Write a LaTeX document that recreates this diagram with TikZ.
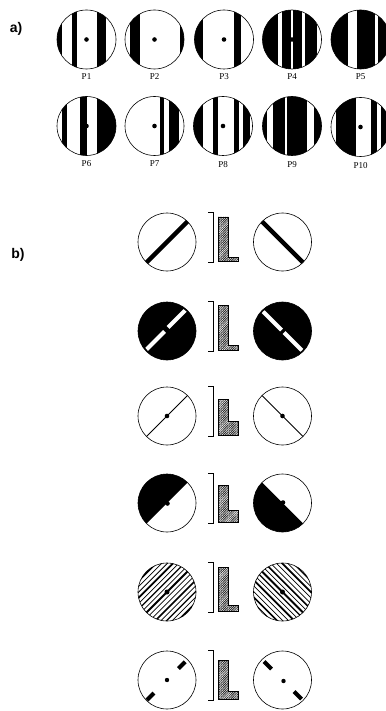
\documentclass[tikz,border=0pt]{standalone}
\usepackage{fontspec}
\setmainfont{Liberation Serif}
\newfontfamily\hdfont{Liberation Sans}
\usetikzlibrary{patterns.meta}
\newcommand\stripecirc[4]{%
 \begin{scope}[shift={(#1,#2)}]
  \begin{scope}\clip (0,0) circle (29.5);
   \foreach \a/\b in {#3} \fill (\a,-31) rectangle (\b,31);
  \end{scope}
  \draw[rim] (0,0) circle (29.5);
  \ifnum#4=1 \fill (0,0) circle (2.3);\fi
 \end{scope}}
\newcommand\brackL[3]{%
 \draw[brk] (208,#1-30) -- (213,#1-30) -- (213,#1+20) -- (208,#1+20);
 \draw[hatch] (218,#1-#2) -- (218,#1+19.5) -- (238,#1+19.5) -- (238,#1+19.5-#3) -- (228.5,#1+19.5-#3) -- (228.5,#1-#2) -- cycle;}
\begin{document}
\begin{tikzpicture}[x=1pt,y=-1pt,
 rim/.style={draw=black,line width=0.6pt},
 lab/.style={font=\fontsize{9}{9}\selectfont, inner sep=0pt},
 head/.style={font=\hdfont\bfseries\fontsize{14}{14}\selectfont, inner sep=0pt},
 hatch/.style={draw=black,line width=0.55pt,pattern={Lines[angle=45,distance=1.25pt,line width=0.5pt]}},
 brk/.style={draw=black,line width=0.7pt}]
\useasboundingbox (0,0) rectangle (385,711);
% ---------- a) ----------
\node[head] (ha) at (16,29) {a)};
\stripecirc{86.5}{39.5}{-30/-24.5, -14.5/-9.5, 10.5/19.5}{1}
\stripecirc{154.5}{39.5}{-24.5/-15, 25.5/30}{1}
\stripecirc{224}{39.5}{-30/-20.7, 10.3/17}{1}
\stripecirc{292}{39.5}{-30/-14.3, -10.3/-1, 1.3/9.7, 13/24.7}{1}
\stripecirc{360.5}{39.5}{-30/-12.3, -4/14.3, 17.6/30}{0}
\stripecirc{86.5}{126}{-25/-20, -6.5/0, 10/30}{1}
\stripecirc{154.5}{126}{5/9.7, 14/24}{1}
\stripecirc{223}{126}{-30/-20, -10/-5, 11/16, 20/26.7}{1}
\stripecirc{292}{126}{-30/-25, -19.3/-6.7, -5/15, 21.7/30}{0}
\stripecirc{360.5}{127}{-25/-5, 10/16.7, 20/25}{1}
\node[lab] (p1) at (86.5,77) {P1};
\node[lab] (p2) at (154.5,77) {P2};
\node[lab] (p3) at (224,77) {P3};
\node[lab] (p4) at (292,77) {P4};
\node[lab] (p5) at (360.5,77) {P5};
\node[lab] (p6) at (86.5,164) {P6};
\node[lab] (p7) at (154.5,164) {P7};
\node[lab] (p8) at (223,165) {P8};
\node[lab] (p9) at (292,165) {P9};
\node[lab] (p10) at (360.5,166) {P10};
% ---------- b) ----------
\node[head] (hb) at (18,255) {b)};
% row 1
\begin{scope}[shift={(167,242)}]
 \begin{scope}\clip (0,0) circle (29); \draw[line width=4.5pt] (-25,25) -- (25,-25); \end{scope}
 \draw[rim] (0,0) circle (29);
\end{scope}
\begin{scope}[shift={(282.5,242)}]
 \begin{scope}\clip (0,0) circle (29); \draw[line width=4.5pt] (-25,-25) -- (25,25); \end{scope}
 \draw[rim] (0,0) circle (29);
\end{scope}
\brackL{242}{25}{4}
% row 2
\begin{scope}[shift={(167,331)}]
 \fill (0,0) circle (29);
 \begin{scope}\clip (0,0) circle (27.5);
  \draw[white,line width=4pt] (-23,21) -- (-2.5,0.5);
  \draw[white,line width=4pt] (1,-3.5) -- (23,-25.5);
 \end{scope}
 \draw[rim] (0,0) circle (29);
\end{scope}
\begin{scope}[shift={(282.5,331)}]
 \fill (0,0) circle (29);
 \begin{scope}\clip (0,0) circle (27.5);
  \draw[white,line width=4pt] (-23,-23) -- (-1,-1);
  \draw[white,line width=4pt] (1.5,1.5) -- (23,23);
 \end{scope}
 \draw[rim] (0,0) circle (29);
\end{scope}
\brackL{331}{26}{5}
% row 3
\begin{scope}[shift={(167,416)}]
 \begin{scope}\clip (0,0) circle (29); \draw[line width=1pt] (-25,25) -- (25,-25); \end{scope}
 \fill (0,0) circle (2.3);
 \draw[rim] (0,0) circle (29);
\end{scope}
\begin{scope}[shift={(282.5,416)}]
 \begin{scope}\clip (0,0) circle (29); \draw[line width=1pt] (-25,-25) -- (25,25); \end{scope}
 \fill (0,0) circle (2.3);
 \draw[rim] (0,0) circle (29);
\end{scope}
\brackL{416}{17}{14}
% row 4
\begin{scope}[shift={(167,503)}]
 \begin{scope}\clip (0,0) circle (29); \fill (-40,40) -- (40,-40) -- (-40,-40) -- cycle; \end{scope}
 \fill (0.5,0.5) circle (2.3);
 \draw[rim] (0,0) circle (29);
\end{scope}
\begin{scope}[shift={(282.5,503)}]
 \begin{scope}\clip (0,0) circle (29); \fill (-40,-40) -- (40,40) -- (-40,40) -- cycle; \end{scope}
 \fill (0.5,-0.5) circle (2.3);
 \draw[rim] (0,0) circle (29);
\end{scope}
\brackL{503}{18}{12}
% row 5
\begin{scope}[shift={(167,592)}]
 \begin{scope}\clip (0,0) circle (29);
  \foreach \d/\w in {-28/1.8,-24/0.7,-20/0.8,-16/1.8,-12/0.7,-8/1.2,-4/0.7,0/1.8,4/0.7,8/0.8,12/1.6,16/0.7,20/1.2,24/0.7,28/1.6}
   \draw[line width=\w pt] (\d*0.7071-32,\d*0.7071+32) -- (\d*0.7071+32,\d*0.7071-32);
 \end{scope}
 \fill (0,0) circle (2.5);
 \draw[rim] (0,0) circle (29);
\end{scope}
\begin{scope}[shift={(282.5,592)}]
 \begin{scope}\clip (0,0) circle (29);
  \foreach \d/\w in {-28/0.7,-24/1.6,-20/0.7,-16/0.8,-12/1.8,-8/0.7,-4/1.2,0/1.8,4/0.7,8/1.6,12/0.7,16/0.8,20/1.8,24/0.7,28/1.2}
   \draw[line width=\w pt] (\d*0.7071-32,-\d*0.7071-32) -- (\d*0.7071+32,-\d*0.7071+32);
 \end{scope}
 \fill (0,0) circle (2.5);
 \draw[rim] (0,0) circle (29);
\end{scope}
\brackL{592}{25}{6}
% row 6
\begin{scope}[shift={(167,680)}]
 \draw[line width=4pt] (11.5,-11.5) -- (18.2,-18.2);
 \draw[line width=4pt] (-13,13) -- (-20,20);
 \fill (0,0) circle (2.2);
 \draw[rim] (0,0) circle (29);
\end{scope}
\begin{scope}[shift={(282.5,680)}]
 \draw[line width=4pt] (-11,-11) -- (-18.5,-18.5);
 \draw[line width=4pt] (11.5,11.5) -- (19,19);
 \fill (1,1) circle (2.2);
 \draw[rim] (0,0) circle (29);
\end{scope}
\brackL{680}{20}{8}
\end{tikzpicture}
\end{document}
